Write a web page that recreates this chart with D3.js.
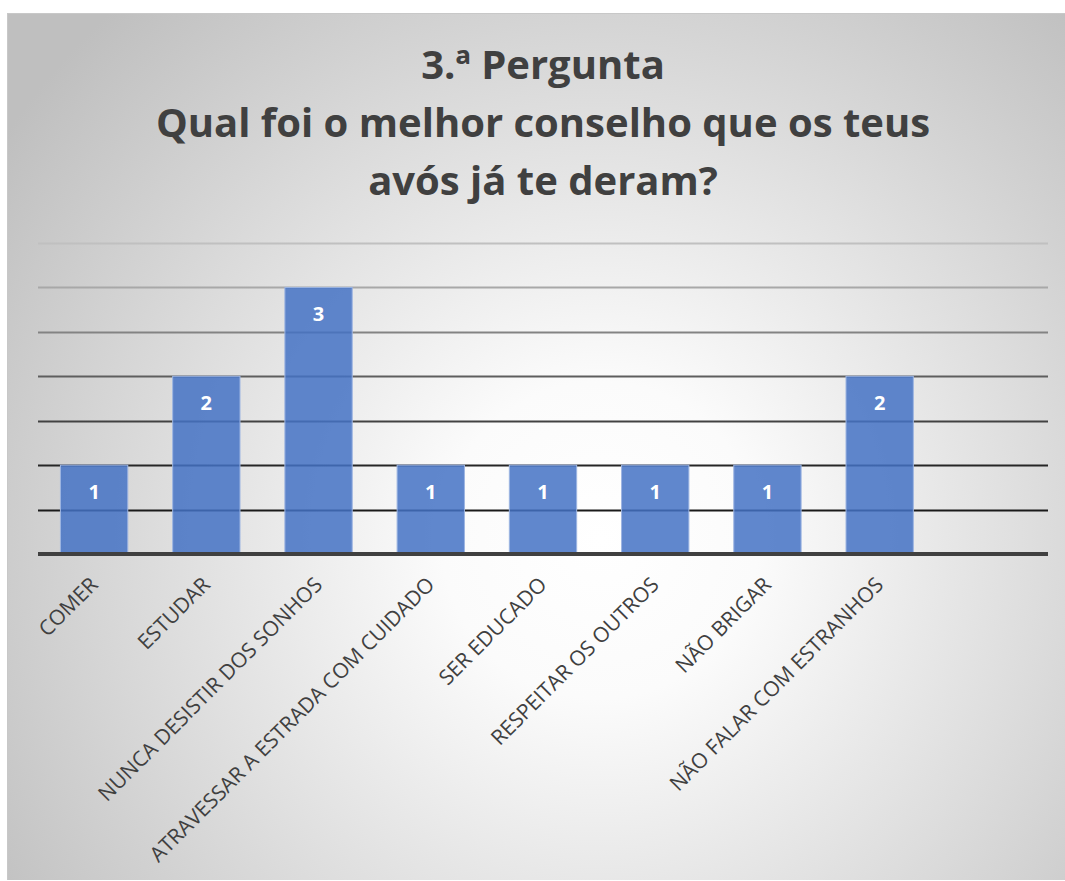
<!DOCTYPE html>
<html>
<head>
<meta charset="utf-8">
<script src="https://cdn.jsdelivr.net/npm/d3@7"></script>
<style>
  body { margin: 0; background: #fff; }
  svg { display: block; }
</style>
</head>
<body>
<div id="chart"></div>
<script>
// data
var categories = [
  "COMER",
  "ESTUDAR",
  "NUNCA DESISTIR DOS SONHOS",
  "ATRAVESSAR A ESTRADA COM CUIDADO",
  "SER EDUCADO",
  "RESPEITAR OS OUTROS",
  "NÃO BRIGAR",
  "NÃO FALAR COM ESTRANHOS",
  "" // empty row in the sheet, keeps the last slot free
];
var values = [1, 2, 3, 1, 1, 1, 1, 2];
var yTicks = [0.5, 1, 1.5, 2, 2.5, 3, 3.5];
var titleLines = ["3.ª Pergunta", "Qual foi o melhor conselho que os teus", "avós já te deram?"];

var W = 1065, H = 881;
var margin = { top: 243, right: 17, bottom: 327, left: 38 },
  width = W - margin.left - margin.right,
  height = H - margin.top - margin.bottom;

var svg = d3.select("#chart")
  .append("svg")
  .attr("width", W)
  .attr("height", H);

// panel background, radial grey gradient
var defs = svg.append("defs");
var grad = defs.append("radialGradient")
  .attr("id", "bg")
  .attr("gradientUnits", "userSpaceOnUse")
  .attr("cx", 600).attr("cy", 540).attr("r", 720);
grad.append("stop").attr("offset", "0").attr("stop-color", "#ffffff");
grad.append("stop").attr("offset", "0.22").attr("stop-color", "#fbfbfb");
grad.append("stop").attr("offset", "1").attr("stop-color", "#bfbfbf");

svg.append("rect")
  .attr("x", 7).attr("y", 13)
  .attr("width", W - 7).attr("height", 867)
  .attr("fill", "url(#bg)");
svg.append("line")
  .attr("x1", 7).attr("x2", W).attr("y1", 13.5).attr("y2", 13.5)
  .attr("stroke", "#c8c8c8").attr("stroke-width", 1);
svg.append("line")
  .attr("x1", 7.5).attr("x2", 7.5).attr("y1", 13).attr("y2", 880)
  .attr("stroke", "#c8c8c8").attr("stroke-width", 1);

// title
svg.append("text")
  .attr("text-anchor", "middle")
  .attr("font-family", "Open Sans, sans-serif")
  .attr("font-weight", "bold")
  .attr("font-size", 40)
  .attr("fill", "#404040")
  .selectAll("tspan")
  .data(titleLines)
  .enter()
  .append("tspan")
  .attr("x", 543)
  .attr("y", function (d, i) { return 79 + i * 58; })
  .text(function (d) { return d; });

var g = svg.append("g")
  .attr("transform", "translate(" + margin.left + "," + margin.top + ")");

var x = d3.scaleBand().domain(categories).range([0, width]).paddingInner(0.4).paddingOuter(0.2);
var y = d3.scaleLinear().domain([0, 3.5]).range([height, 0]);

// gridlines get darker towards the bottom, like the original
var gridColor = d3.scaleLinear().domain([0.5, 1, 2, 3, 3.5])
  .range(["#1a1a1a", "#262626", "#5e5e5e", "#a8a8a8", "#c0c0c0"]);

g.append("g")
  .selectAll("line")
  .data(yTicks)
  .enter()
  .append("line")
  .attr("x1", 0)
  .attr("x2", width)
  .attr("y1", function (d) { return Math.round(y(d)) + 0.5; })
  .attr("y2", function (d) { return Math.round(y(d)) + 0.5; })
  .attr("stroke", function (d) { return gridColor(d); })
  .attr("stroke-width", 2);

// bars
g.selectAll(".bar")
  .data(values)
  .enter()
  .append("rect")
  .attr("class", "bar")
  .attr("x", function (d, i) { return x(categories[i]); })
  .attr("width", x.bandwidth())
  .attr("y", function (d) { return y(d); })
  .attr("height", function (d) { return height - y(d); })
  .attr("fill", "#4472c4")
  .attr("fill-opacity", 0.85)
  .attr("stroke", "#9db5e2")
  .attr("stroke-width", 1);

// value labels
g.selectAll(".val")
  .data(values)
  .enter()
  .append("text")
  .attr("class", "val")
  .attr("x", function (d, i) { return x(categories[i]) + x.bandwidth() / 2; })
  .attr("y", function (d) { return y(d) + 34; })
  .attr("text-anchor", "middle")
  .attr("font-family", "Open Sans, sans-serif")
  .attr("font-weight", "bold")
  .attr("font-size", 20)
  .attr("fill", "#ffffff")
  .text(function (d) { return d; });

// x axis
var xAxis = g.append("g")
  .attr("transform", "translate(0," + height + ")")
  .call(d3.axisBottom(x).tickSize(0).tickPadding(0));
xAxis.select(".domain").remove();
xAxis.append("line")
  .attr("x1", 0).attr("x2", width)
  .attr("stroke", "#404040")
  .attr("stroke-width", 4);
xAxis.selectAll(".tick text")
  .attr("font-family", "Open Sans, sans-serif")
  .attr("font-size", 21)
  .attr("fill", "#404040")
  .attr("text-anchor", "end")
  .attr("y", 0)
  .attr("dy", 0)
  .attr("transform", "translate(5,32) rotate(-45)");
</script>
</body>
</html>
